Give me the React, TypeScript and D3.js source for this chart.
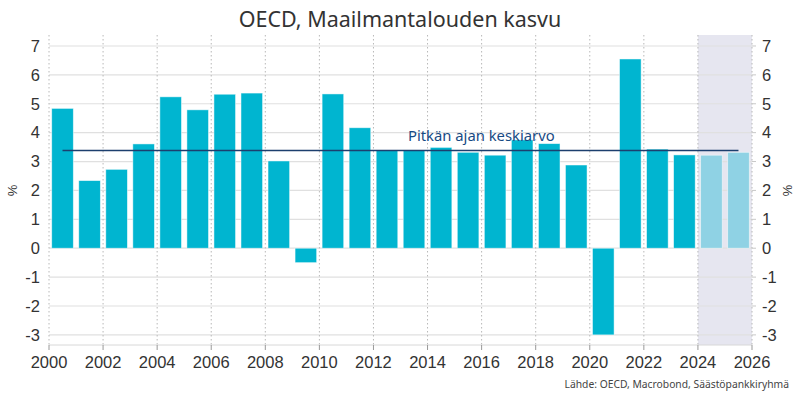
import React, { useEffect, useRef } from 'react';
import * as d3 from 'd3';

const years = [2000, 2001, 2002, 2003, 2004, 2005, 2006, 2007, 2008, 2009, 2010, 2011, 2012,
  2013, 2014, 2015, 2016, 2017, 2018, 2019, 2020, 2021, 2022, 2023, 2024, 2025];
const growth = [4.84, 2.34, 2.73, 3.61, 5.24, 4.79, 5.33, 5.37, 3.02, -0.5, 5.34, 4.17, 3.4,
  3.4, 3.49, 3.32, 3.22, 3.75, 3.62, 2.88, -3.0, 6.55, 3.43, 3.23, 3.22, 3.32];
const forecastFrom = 2024;
const longTermAvg = 3.38;
const yTicks = [-3, -2, -1, 0, 1, 2, 3, 4, 5, 6, 7];
const xTicks = [2000, 2002, 2004, 2006, 2008, 2010, 2012, 2014, 2016, 2018, 2020, 2022, 2024, 2026];

const W = 800;
const H = 400;

const App: React.FC = () => {
  const svgRef = useRef<SVGSVGElement>(null);

  useEffect(() => {
    if (!svgRef.current) return;
    const svg = d3.select(svgRef.current);
    svg.selectAll('*').remove();

    const left = 49, right = 752, top = 35, bottom = 345;
    const x = d3.scaleLinear().domain([2000, 2026]).range([left, right]);
    const y = d3.scaleLinear().domain([-3.35, 7.38]).range([bottom, top]);
    const tickFont = '"Liberation Sans", Arial, sans-serif';
    const textCol = '#333333';

    // forecast shading
    svg.append('rect')
      .attr('x', x(forecastFrom)).attr('y', top)
      .attr('width', x(2026) - x(forecastFrom)).attr('height', bottom - top)
      .attr('fill', '#e6e6f0');

    // horizontal grid
    svg.append('g').selectAll('line').data(yTicks).join('line')
      .attr('x1', left).attr('x2', right)
      .attr('y1', d => y(d)).attr('y2', d => y(d))
      .attr('stroke', '#e0e0e0').attr('stroke-width', 1.2);

    // vertical dotted grid
    svg.append('g').selectAll('line').data(xTicks).join('line')
      .attr('x1', d => x(d)).attr('x2', d => x(d))
      .attr('y1', top).attr('y2', bottom)
      .attr('stroke', '#b8b8b8').attr('stroke-width', 1)
      .attr('stroke-dasharray', '1.5,2.5');

    // bottom axis line
    svg.append('line')
      .attr('x1', left).attr('x2', right).attr('y1', bottom).attr('y2', bottom)
      .attr('stroke', '#d8d8d8').attr('stroke-width', 1);

    // bars
    const bw = 21.6;
    svg.append('g').selectAll('rect').data(years).join('rect')
      .attr('x', d => x(d + 0.5) - bw / 2)
      .attr('width', bw)
      .attr('y', (d, i) => y(Math.max(0, growth[i])))
      .attr('height', (d, i) => Math.abs(y(growth[i]) - y(0)))
      .attr('fill', d => (d >= forecastFrom ? '#8fd2e4' : '#00b5d0'))
      .attr('stroke', '#ffffff').attr('stroke-opacity', 0.6).attr('stroke-width', 0.8);

    // long-term average
    svg.append('line')
      .attr('x1', x(2000.5)).attr('x2', x(2025.5))
      .attr('y1', y(longTermAvg)).attr('y2', y(longTermAvg))
      .attr('stroke', '#1c3f6e').attr('stroke-width', 1.5);
    svg.append('text')
      .attr('x', 408).attr('y', 141)
      .attr('font-family', '"Noto Sans", sans-serif').attr('font-size', 14.8)
      .attr('fill', '#174a84')
      .text('Pitkän ajan keskiarvo');

    // y axes labels
    svg.append('g').selectAll('text').data(yTicks).join('text')
      .attr('x', 40).attr('y', d => y(d)).attr('dy', '0.35em')
      .attr('text-anchor', 'end')
      .attr('font-family', tickFont).attr('font-size', 16.5).attr('fill', textCol)
      .text(d => d);
    svg.append('g').selectAll('text').data(yTicks).join('text')
      .attr('x', 762).attr('y', d => y(d)).attr('dy', '0.35em')
      .attr('text-anchor', 'start')
      .attr('font-family', tickFont).attr('font-size', 16.5).attr('fill', textCol)
      .text(d => d);
    // small right ticks
    svg.append('g').selectAll('line').data(yTicks).join('line')
      .attr('x1', right).attr('x2', right + 4)
      .attr('y1', d => y(d)).attr('y2', d => y(d))
      .attr('stroke', '#c8c8c8');

    // x axis
    svg.append('g').selectAll('line').data(xTicks).join('line')
      .attr('x1', d => x(d)).attr('x2', d => x(d))
      .attr('y1', bottom).attr('y2', bottom + 5)
      .attr('stroke', '#999999');
    svg.append('g').selectAll('text').data(xTicks).join('text')
      .attr('x', d => x(d)).attr('y', 368)
      .attr('text-anchor', 'middle')
      .attr('font-family', tickFont).attr('font-size', 16.5).attr('fill', textCol)
      .text(d => d);

    // % labels
    svg.append('text')
      .attr('transform', `translate(17,${y(2)}) rotate(-90)`)
      .attr('text-anchor', 'middle')
      .attr('font-family', tickFont).attr('font-size', 13).attr('fill', textCol)
      .text('%');
    svg.append('text')
      .attr('transform', `translate(783,${y(2)}) rotate(90)`)
      .attr('text-anchor', 'middle')
      .attr('font-family', tickFont).attr('font-size', 13).attr('fill', textCol)
      .text('%');

    // title
    svg.append('text')
      .attr('x', 400).attr('y', 27)
      .attr('text-anchor', 'middle')
      .attr('font-family', '"Noto Sans", sans-serif').attr('font-size', 21.5)
      .attr('fill', textCol)
      .text('OECD, Maailmantalouden kasvu');

    // source
    svg.append('text')
      .attr('x', 789).attr('y', 388)
      .attr('text-anchor', 'end')
      .attr('font-family', '"Noto Sans", sans-serif').attr('font-size', 10.3)
      .attr('fill', '#444444')
      .text('Lähde: OECD, Macrobond, Säästöpankkiryhmä');
  }, []);

  return (
    <svg ref={svgRef} width={W} height={H}
      style={{ position: 'absolute', left: 0, top: 0, background: '#ffffff' }} />
  );
};

export default App;
